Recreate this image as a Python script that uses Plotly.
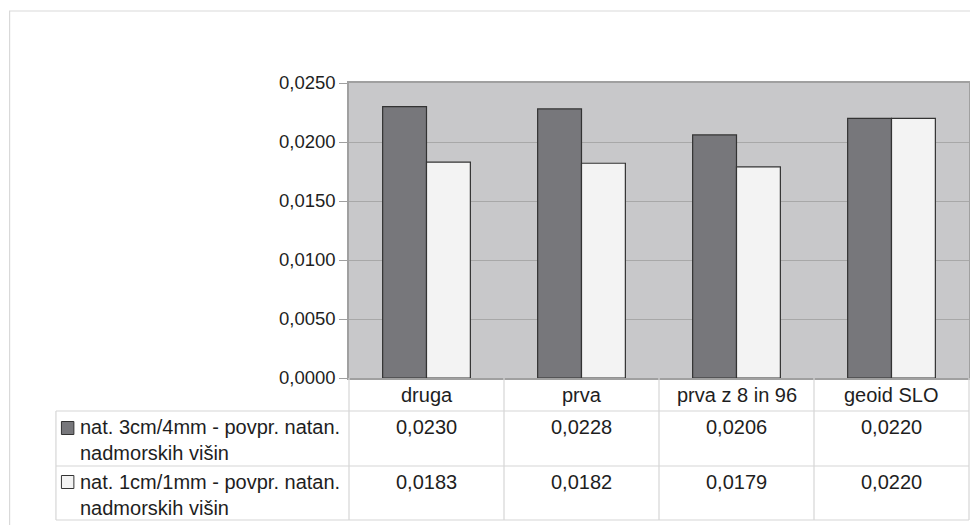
import plotly.graph_objects as go

categories = ["druga", "prva", "prva z 8 in 96", "geoid SLO"]
series1_name = "nat. 3cm/4mm - povpr. natan.<br>nadmorskih višin"
series2_name = "nat. 1cm/1mm - povpr. natan.<br>nadmorskih višin"
series1 = [0.0230, 0.0228, 0.0206, 0.0220]
series2 = [0.0183, 0.0182, 0.0179, 0.0220]
tick_vals = [0, 0.005, 0.01, 0.015, 0.02, 0.025]

# the page body has an 8px margin; work in page pixels and shift
OFF = 8
W, H = 978 - OFF, 525 - OFF
L, R, T, B = 349, 971, 83, 378  # page pixel coordinates of the plot area
FONT = "Liberation Sans, Arial, sans-serif"
C_DARK = "#77777b"
C_LIGHT = "#f3f3f3"
GRID_TABLE = "#d6d6d6"
TXT = "#1e1e1e"


def py(p):
    """page pixel y -> paper y"""
    return (B - p) / (B - T)


def px(p):
    """page pixel x -> paper x"""
    return (p - L) / (R - L)


fig = go.Figure()
fig.add_trace(go.Bar(x=categories, y=series1, name="s1",
                     marker=dict(color=C_DARK, line=dict(color="#333333", width=1.2))))
fig.add_trace(go.Bar(x=categories, y=series2, name="s2",
                     marker=dict(color=C_LIGHT, line=dict(color="#333333", width=1.2))))

shapes = []
# outer frame
shapes.append(dict(type="rect", xref="paper", yref="paper", x0=px(8.5), x1=px(977), y0=py(540), y1=py(11),
                   line=dict(color="#d9d9d9", width=1.2), layer="below"))
# table horizontal lines
for yy in [411, 466, 520]:
    shapes.append(dict(type="line", xref="paper", yref="paper", x0=px(55), x1=px(971), y0=py(yy), y1=py(yy),
                       line=dict(color=GRID_TABLE, width=1.2)))
# table vertical lines
for xx in [349, 504.5, 660, 815.5, 971]:
    shapes.append(dict(type="line", xref="paper", yref="paper", x0=px(xx), x1=px(xx), y0=py(378), y1=py(520),
                       line=dict(color=GRID_TABLE, width=1.2)))
shapes.append(dict(type="line", xref="paper", yref="paper", x0=px(55), x1=px(55), y0=py(411), y1=py(520),
                   line=dict(color=GRID_TABLE, width=1.2)))
# legend keys
for (yc, col) in [(428, C_DARK), (482, C_LIGHT)]:
    shapes.append(dict(type="rect", xref="paper", yref="paper", x0=px(60.5), x1=px(73), y0=py(yc + 6.5),
                       y1=py(yc - 6.5), fillcolor=col, line=dict(color="#333333", width=1)))

ann = []
fs = 20
for c in categories:
    ann.append(dict(x=c, xref="x", y=py(395), yref="paper", text=c, showarrow=False,
                    font=dict(size=fs, color=TXT, family=FONT), xanchor="center", yanchor="middle"))
for i, c in enumerate(categories):
    ann.append(dict(x=c, xref="x", y=py(427), yref="paper", text=f"{series1[i]:.4f}".replace(".", ","),
                    showarrow=False, font=dict(size=fs, color=TXT, family=FONT),
                    xanchor="center", yanchor="middle"))
    ann.append(dict(x=c, xref="x", y=py(482), yref="paper", text=f"{series2[i]:.4f}".replace(".", ","),
                    showarrow=False, font=dict(size=fs, color=TXT, family=FONT),
                    xanchor="center", yanchor="middle"))
for name, yy in [(series1_name, 440.5), (series2_name, 494.5)]:
    ann.append(dict(x=px(77), xref="paper", y=py(yy), yref="paper", text=name, showarrow=False,
                    font=dict(size=fs, color=TXT, family=FONT), xanchor="left", yanchor="middle",
                    align="left"))

fig.update_layout(
    width=W, height=H,
    margin=dict(l=L - OFF, r=(W + OFF) - R, t=T - OFF, b=(H + OFF) - B, pad=0),
    paper_bgcolor="white",
    plot_bgcolor="#c8c8ca",
    barmode="group",
    bargap=0.434,
    bargroupgap=0,
    showlegend=False,
    separators=",.",
    font=dict(family=FONT, size=fs, color=TXT),
    shapes=shapes,
    annotations=ann,
)
fig.update_xaxes(showticklabels=False, showgrid=False, showline=True, linecolor="#a0a0a0", linewidth=1.5,
                 mirror=True, ticks="")
fig.update_yaxes(range=[0, 0.025], tickvals=tick_vals, tickformat=".4f", showgrid=True, gridcolor="#a8a8a8",
                 gridwidth=1.2, showline=True, linecolor="#a0a0a0", linewidth=1.5, mirror=True,
                 ticks="outside", ticklen=8, tickcolor="#a0a0a0", zeroline=False,
                 tickfont=dict(size=18.5, color=TXT, family=FONT))

fig.write_html("out.html")
